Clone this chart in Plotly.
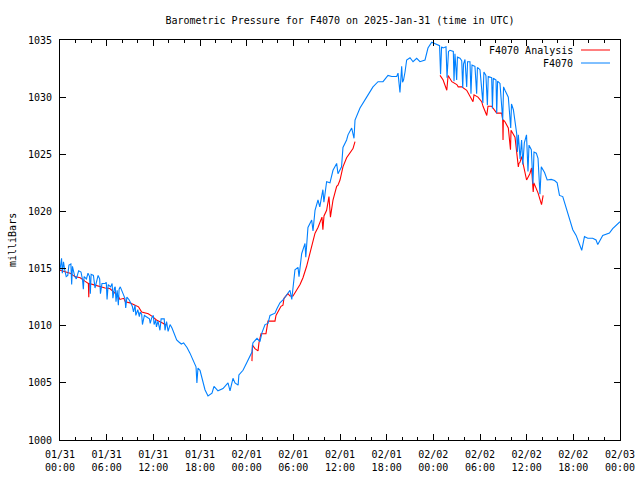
import plotly.graph_objects as go
import pandas as pd

START = "2025-01-31 00:00"

# F4070 observations: hours after start, pressure (mb)
blue_hours = [
    0.0, 0.2, 0.3, 0.45, 0.6, 0.8, 1.0, 1.15, 1.4, 1.5, 1.6, 1.9, 2.1, 2.4, 2.7, 2.9, 3.0, 3.1,
    3.4, 3.6, 3.8, 3.9, 4.0, 4.3, 4.5, 4.7, 4.9, 5.1, 5.2, 5.4, 5.8, 5.95, 6.05, 6.2, 6.5, 6.7,
    6.8, 7.0, 7.1, 7.2, 7.35, 7.5, 7.6, 7.75, 8.0, 8.35, 8.45, 8.6, 8.9, 9.1, 9.3, 9.45, 9.65,
    9.75, 10.0, 10.2, 10.3, 10.5, 10.6, 10.85, 11.1, 11.5, 11.6, 11.8, 12.0, 12.1, 12.3, 12.4,
    12.6, 12.85, 13.0, 13.4, 13.5, 13.7, 13.9, 14.15, 14.4, 14.6, 14.8, 15.0, 15.25, 15.6, 15.9,
    16.1, 16.33, 16.71, 17.1, 17.49, 17.6, 17.74, 18.0, 18.26, 18.64, 19.03, 19.54, 19.8, 20.31,
    20.96, 21.6, 21.86, 22.24, 22.5, 22.9, 23.0, 23.53, 24.04, 24.43, 24.68, 24.8, 25.33, 25.71,
    25.97, 26.36, 26.74, 27.0, 27.64, 27.9, 28.28, 28.67, 29.57, 29.8, 30.21, 30.6, 30.73, 31.07,
    31.5, 31.6, 31.88, 32.36, 32.53, 32.79, 33.17, 33.4, 33.8, 33.93, 34.28, 34.71, 35.1, 35.57,
    35.74, 36.2, 36.38, 36.85, 37.03, 37.5, 37.8, 37.93, 38.57, 39.43, 40.24, 40.89, 41.53,
    42.17, 42.65, 43.29, 43.46, 43.71, 43.93, 44.04, 44.17, 44.36, 44.57, 45.0, 45.39, 45.86,
    46.28, 46.93, 47.31, 47.79, 48.21, 48.6, 48.8, 48.93, 49.06, 49.26, 49.63, 49.76, 49.95,
    50.14, 50.57, 50.66, 50.78, 51.0, 51.1, 51.43, 51.65, 51.78, 51.88, 52.07, 52.29, 52.4,
    52.71, 52.84, 52.97, 53.35, 53.57, 53.67, 54.0, 54.37, 54.5, 54.76, 54.95, 55.06, 55.5,
    55.6, 55.71, 56.06, 56.15, 56.26, 56.57, 56.92, 57.03, 57.21, 57.64, 57.95, 58.05, 58.29,
    58.5, 58.72, 58.8, 58.93, 59.15, 59.35, 59.5, 59.7, 59.98, 60.17, 60.3, 60.6, 60.81, 60.94,
    61.24, 61.46, 61.71, 61.88, 62.3, 62.64, 63.15, 63.59, 63.92, 64.22, 64.64, 65.07, 65.5,
    65.93, 66.36, 66.79, 67.08, 67.43, 67.85, 68.49, 68.92, 69.14, 69.78, 70.64, 71.06, 72.0,
]
blue_mb = [
    1014.9, 1015.9, 1014.6, 1015.6, 1014.9, 1014.3, 1014.4, 1015.3, 1015.4, 1013.6, 1015.2,
    1014.3, 1014.1, 1014.8, 1014.7, 1014.0, 1013.2, 1014.3, 1014.1, 1014.6, 1014.3, 1012.8,
    1014.5, 1014.4, 1013.3, 1013.9, 1014.4, 1014.1, 1012.8, 1013.7, 1013.7, 1013.8, 1012.3,
    1013.6, 1013.4, 1013.7, 1012.4, 1013.3, 1013.4, 1012.1, 1013.1, 1011.8, 1013.2, 1013.4,
    1012.9, 1012.4, 1011.55, 1012.5, 1012.25, 1012.0, 1011.7, 1011.2, 1011.8, 1010.9, 1011.4,
    1010.8, 1011.2, 1011.0, 1010.1, 1010.9, 1010.8, 1010.6, 1010.2, 1010.7, 1010.9, 1010.1,
    1010.5, 1009.9, 1010.4, 1009.6, 1010.6, 1010.6, 1009.6, 1010.35, 1009.5, 1010.1, 1009.8,
    1009.5, 1009.05, 1008.75, 1008.6, 1008.4, 1008.5, 1008.3, 1008.1, 1007.6, 1007.0, 1006.4,
    1005.0, 1006.3, 1006.1, 1005.5, 1004.4, 1003.85, 1004.1, 1004.7, 1004.3, 1004.5, 1005.0,
    1004.3, 1005.4, 1005.0, 1004.8, 1005.7, 1006.1, 1006.8, 1007.4, 1007.7, 1008.5, 1008.9,
    1008.6, 1009.4, 1010.1, 1010.2, 1010.9, 1011.1, 1011.5, 1012.0, 1012.25, 1013.1, 1012.3,
    1014.9, 1015.1, 1014.3, 1016.3, 1017.2, 1016.0, 1018.6, 1019.25, 1018.3, 1020.1, 1021.0,
    1020.4, 1021.9, 1020.8, 1022.6, 1022.5, 1023.6, 1024.2, 1023.3, 1023.9, 1025.6, 1026.25,
    1026.7, 1027.3, 1026.4, 1028.0, 1029.05, 1030.0, 1030.9, 1031.35, 1031.35, 1031.9, 1031.8,
    1031.8, 1032.1, 1030.4, 1032.7, 1031.3, 1031.5, 1032.2, 1033.25, 1033.45, 1033.1, 1033.4,
    1033.1, 1033.25, 1034.3, 1034.8, 1034.7, 1034.55, 1034.5, 1032.0, 1034.4, 1034.3, 1034.4,
    1031.7, 1034.0, 1034.1, 1034.0, 1031.4, 1033.8, 1031.5, 1033.5, 1033.4, 1033.2, 1030.8,
    1032.9, 1033.3, 1030.9, 1033.1, 1033.1, 1030.3, 1032.8, 1032.7, 1030.3, 1032.6, 1032.4,
    1029.5, 1032.2, 1031.9, 1029.3, 1031.8, 1031.7, 1029.0, 1031.65, 1031.5, 1028.6, 1031.4,
    1031.2, 1028.0, 1030.9, 1030.6, 1030.0, 1027.3, 1029.4, 1028.9, 1028.0, 1026.8, 1025.2,
    1026.7, 1024.6, 1026.25, 1024.1, 1026.0, 1026.7, 1023.5, 1025.8, 1025.4, 1022.4, 1025.2,
    1025.1, 1024.65, 1021.5, 1023.9, 1023.4, 1022.75, 1022.8, 1022.7, 1022.5, 1021.4, 1021.3,
    1020.3, 1019.4, 1018.4, 1017.9, 1017.1, 1016.6, 1017.8, 1017.65, 1017.65, 1017.5, 1017.1,
    1017.9, 1018.1, 1018.5, 1019.1,
]

# F4070 Analysis: three separate segments (None = gap)
red_hours = [
    0.0, 0.65, 1.3, 1.9, 2.6, 3.2, 3.65, 3.7, 3.75, 4.5, 5.15, 5.8, 6.4, 6.85, 7.5, 7.7, 8.2,
    8.4, 9.0, 9.65, 10.1, 10.5, 10.9, 11.35, 11.9, 12.4, 12.85, 13.3, 13.5, 13.75,
    None,
    24.68, 24.74, 25.07, 25.46, 25.58, 25.84, 26.48, 26.61, 26.74, 27.64, 27.77, 28.41, 28.67,
    28.8, 29.31, 29.57, 29.96, 30.86, 31.24, 31.71, 32.0, 32.36, 32.53, 32.79, 33.17, 33.43,
    33.68, 33.8, 33.94, 34.28, 34.58, 34.77, 34.9, 35.1, 35.57, 35.74, 36.0, 36.38, 36.85,
    37.28, 37.67, 37.93,
    None,
    48.86, 49.26, 49.73, 49.9, 50.38, 51.02, 51.2, 51.65, 52.29, 52.94, 53.1, 53.23, 53.74,
    54.22, 54.39, 54.87, 55.03, 55.5, 56.15, 56.79, 56.92, 56.96, 57.0, 57.21, 57.64, 57.92,
    57.99, 58.5, 58.93, 59.0, 59.14, 59.35, 59.99, 60.41, 60.63, 60.84, 60.93, 61.47, 61.91,
    62.12,
]
red_mb = [
    1014.85, 1014.75, 1014.6, 1014.3, 1014.2, 1013.9, 1013.7, 1012.5, 1013.7, 1013.55, 1013.4,
    1013.3, 1013.25, 1013.0, 1012.6, 1012.3, 1012.4, 1012.1, 1012.0, 1011.8, 1011.65, 1011.2,
    1011.1, 1011.05, 1010.8, 1010.5, 1010.35, 1010.2, 1010.05, 1010.2,
    None,
    1006.9, 1008.3, 1008.0, 1007.8, 1008.5, 1009.3, 1009.3, 1009.8, 1010.4, 1010.4, 1010.9,
    1011.7, 1011.8, 1012.4, 1012.8, 1012.6, 1012.6, 1013.6, 1014.2, 1015.2, 1016.0, 1016.9,
    1017.5, 1018.1, 1018.6, 1019.0, 1019.5, 1018.4, 1019.6, 1020.1, 1021.3, 1019.5, 1020.3,
    1021.0, 1022.2, 1022.3, 1022.75, 1023.9, 1024.7, 1025.1, 1025.5, 1026.1,
    None,
    1031.9, 1031.5, 1030.6, 1031.9, 1031.35, 1031.1, 1030.9, 1030.9, 1030.6, 1029.75, 1029.6,
    1030.2, 1030.0, 1029.6, 1029.2, 1028.4, 1029.2, 1029.2, 1028.6, 1028.6, 1028.0, 1026.25,
    1028.0, 1027.85, 1027.3, 1025.4, 1027.1, 1026.5, 1023.9, 1024.2, 1024.3, 1024.8, 1022.75,
    1023.3, 1023.8, 1021.7, 1022.5, 1021.6, 1020.6, 1021.4,
]

tick_hours = [0, 6, 12, 18, 24, 30, 36, 42, 48, 54, 60, 66, 72]
tick_labels = [
    "01/31<br>00:00", "01/31<br>06:00", "01/31<br>12:00", "01/31<br>18:00",
    "02/01<br>00:00", "02/01<br>06:00", "02/01<br>12:00", "02/01<br>18:00",
    "02/02<br>00:00", "02/02<br>06:00", "02/02<br>12:00", "02/02<br>18:00",
    "02/03<br>00:00",
]
y_ticks = [1000, 1005, 1010, 1015, 1020, 1025, 1030, 1035]

t0 = pd.Timestamp(START)


def to_time(hours):
    return [None if h is None else t0 + pd.Timedelta(hours=h) for h in hours]


RED = "#ff0000"
BLUE = "#0080ff"
FONT = "DejaVu Sans Mono"

fig = go.Figure()
fig.add_trace(go.Scatter(x=to_time(red_hours), y=red_mb, mode="lines",
                         line=dict(color=RED, width=1.1), name="F4070 Analysis",
                         connectgaps=False, showlegend=False))
fig.add_trace(go.Scatter(x=to_time(blue_hours), y=blue_mb, mode="lines",
                         line=dict(color=BLUE, width=1.1), name="F4070",
                         showlegend=False))

fig.update_layout(
    width=640, height=480,
    margin=dict(l=60, r=20, t=40, b=40),
    paper_bgcolor="white", plot_bgcolor="white",
    font=dict(family=FONT, size=10, color="black"),
    title=dict(text="Barometric Pressure for F4070 on 2025-Jan-31 (time in UTC)",
               x=0.5, xref="paper", xanchor="center",
               y=1 - 20 / 480, yref="container", yanchor="middle",
               font=dict(family=FONT, size=10, color="black")),
    xaxis=dict(
        type="date",
        range=[t0, t0 + pd.Timedelta(hours=72)],
        tickmode="array", tickvals=to_time(tick_hours), ticktext=tick_labels,
        showgrid=False, zeroline=False, automargin=False,
        showline=True, linecolor="black", linewidth=1, mirror="ticks",
        ticks="inside", ticklen=6, tickcolor="black", tickwidth=1,
        minor=dict(ticks="inside", ticklen=3, tickcolor="black",
                   dtick=2 * 3600 * 1000, tick0=START, showgrid=False),
        ticklabelstandoff=5,
    ),
    yaxis=dict(
        range=[1000, 1035],
        tickmode="array", tickvals=y_ticks, ticktext=[str(v) for v in y_ticks],
        showgrid=False, zeroline=False, automargin=False,
        showline=True, linecolor="black", linewidth=1, mirror="ticks",
        ticks="inside", ticklen=6, tickcolor="black", tickwidth=1,
        ticklabelstandoff=5,
    ),
    annotations=[
        dict(text="milliBars", textangle=-90, xref="paper", yref="paper",
             x=(12 - 60) / 560, y=0.5, xanchor="center", yanchor="middle",
             showarrow=False, font=dict(family=FONT, size=10)),
        dict(text="F4070 Analysis", xref="paper", yref="paper",
             x=(575 - 60) / 560, y=(440 - 50) / 400, xanchor="right", yanchor="middle",
             showarrow=False, font=dict(family=FONT, size=10)),
        dict(text="F4070", xref="paper", yref="paper",
             x=(575 - 60) / 560, y=(440 - 63) / 400, xanchor="right", yanchor="middle",
             showarrow=False, font=dict(family=FONT, size=10)),
    ],
    shapes=[
        dict(type="line", xref="paper", yref="paper",
             x0=(581 - 60) / 560, x1=(610 - 60) / 560,
             y0=(440 - 50) / 400, y1=(440 - 50) / 400,
             line=dict(color=RED, width=1)),
        dict(type="line", xref="paper", yref="paper",
             x0=(581 - 60) / 560, x1=(610 - 60) / 560,
             y0=(440 - 63) / 400, y1=(440 - 63) / 400,
             line=dict(color=BLUE, width=1)),
    ],
)

fig.write_html(
    "out.html",
    config={"displayModeBar": False},
    post_script="document.body.style.margin='0';document.body.style.padding='0';",
)
